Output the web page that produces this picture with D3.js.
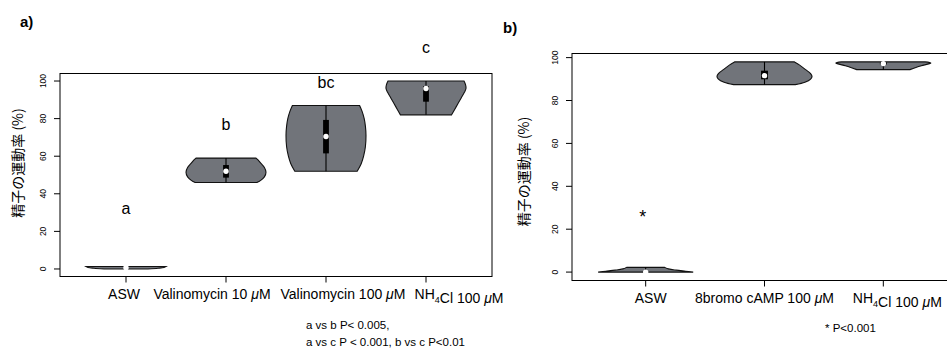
<!DOCTYPE html>
<html lang="ja">
<head>
<meta charset="UTF-8">
<title>精子の運動率</title>
<style>
  body { margin: 0; background: #fff; }
  svg text { font-family: "Liberation Sans", Arial, sans-serif; fill: #000; }
  .cjk { font-family: "Noto Sans CJK JP", "Liberation Sans", sans-serif; }
  .violin { fill: #71747a; stroke: #111; stroke-width: 1.1px; }
  .frame { fill: none; stroke: #000; stroke-width: 1px; }
</style>
<script src="https://d3js.org/d3.v7.min.js"></script>
</head>
<body>
<svg id="chart" width="947" height="358"></svg>
<script>
// ---- data ----
const yTicks = [0, 20, 40, 60, 80, 100];

// panel a
const groupsA = ["ASW", "Valinomycin 10 μM", "Valinomycin 100 μM", "NH4Cl 100 μM"];
// violin outlines: [value, relative half width]
const shapesA = [
  [[0, 0.55], [0.4, 0.8], [0.8, 0.95], [1.3, 1.0]],
  [[46, 0.77], [47, 0.86], [49, 0.96], [51.5, 1.0], [54, 0.96], [56, 0.88], [58, 0.8], [59, 0.75]],
  [[52, 0.78], [56, 0.88], [60, 0.94], [65, 0.985], [71, 1.0], [76, 0.985], [80, 0.955], [84, 0.9], [87, 0.84]],
  [[82, 0.64], [85, 0.72], [88, 0.8], [91, 0.88], [94, 0.96], [96, 1.0], [98, 0.99], [100, 0.95]]
];
const q1A = [0.7, 48.6, 61.5, 89];
const medA = [0.7, 52, 70.5, 96];
const q3A = [0.7, 55.3, 79.3, 97.3];
const lettersA = ["a", "b", "bc", "c"];
const letterYA = [32, 77, 99, 118];

// panel b
const groupsB = ["ASW", "8bromo cAMP 100 μM", "NH4Cl 100 μM"];
const shapesB = [
  [[0, 1.0], [0.4, 0.84], [0.9, 0.64], [1.5, 0.48], [2.2, 0.4]],
  [[87.4, 0.65], [88.5, 0.85], [90, 0.97], [91.2, 1.0], [92.5, 0.97], [94.5, 0.86], [96.5, 0.74], [98, 0.63]],
  [[94.4, 0.56], [95.5, 0.7], [96.5, 0.85], [97.5, 1.0], [98, 0.88]]
];
const q1B = [0, 89.9, 96.8];
const medB = [0, 91.6, 97.2];
const q3B = [0, 93.9, 97.8];
const starY = 27.7;

const svg = d3.select("#chart");

function addLabel(t, s) {
  s.split(/(μ|4(?=Cl))/).filter(p => p !== "").forEach(p => {
    if (p === "μ") t.append("tspan").attr("font-style", "italic").text("μ");
    else if (p === "4") {
      t.append("tspan").attr("dy", 4).attr("font-size", "9px").text("4");
      t.append("tspan").attr("dy", -4).text("");
    } else t.append("tspan").text(p);
  });
}

function panel(opt) {
  const n = opt.groups.length;
  const ext = 0.04 * n;
  const x = d3.scaleLinear().domain([0.5 - ext, n + 0.5 + ext]).range([opt.left, opt.right]);
  const yr = opt.ymax - opt.ymin, ye = 0.04 * yr;
  const y = d3.scaleLinear().domain([opt.ymin - ye, opt.ymax + ye]).range([opt.bottom, opt.top]);
  const step = x(2) - x(1);
  const g = svg.append("g");

  // violins
  opt.shapes.forEach((shape, i) => {
    const cx = x(i + 1);
    const area = d3.area()
      .x0(d => cx - d[1] * 0.4 * step)
      .x1(d => cx + d[1] * 0.4 * step)
      .y(d => y(d[0]))
      .curve(d3.curveCatmullRom);
    g.append("path").attr("class", "violin").attr("d", area(shape));
    const lo = shape[0][0], hi = shape[shape.length - 1][0];
    g.append("line").attr("x1", cx).attr("x2", cx).attr("y1", y(lo)).attr("y2", y(hi))
      .attr("stroke", "#000").attr("stroke-width", 1.1);
    const bw = 0.058 * step;
    g.append("rect").attr("x", cx - bw / 2).attr("width", bw)
      .attr("y", y(opt.q3[i])).attr("height", y(opt.q1[i]) - y(opt.q3[i]))
      .attr("fill", "#000");
    g.append("circle").attr("cx", cx).attr("cy", y(opt.med[i])).attr("r", 2.7).attr("fill", "#fff");
  });

  // frame
  const right = Math.min(opt.right, 960);
  g.append("rect").attr("class", "frame")
    .attr("x", opt.left).attr("y", opt.top)
    .attr("width", right - opt.left).attr("height", opt.bottom - opt.top);

  // y axis
  yTicks.forEach(v => {
    g.append("line").attr("x1", opt.left - 6).attr("x2", opt.left)
      .attr("y1", y(v)).attr("y2", y(v)).attr("stroke", "#000");
    g.append("text")
      .attr("transform", `translate(${opt.left - 17},${y(v)}) rotate(-90)`)
      .attr("text-anchor", "middle").attr("dy", "0.35em")
      .attr("font-size", "8.5px").text(v);
  });
  g.append("text").attr("class", "cjk")
    .attr("transform", `translate(${opt.labelX},${opt.labelY}) rotate(-90)`)
    .attr("text-anchor", "middle").attr("dy", "0.35em")
    .attr("font-size", "14px").text("精子の運動率 (%)");

  // x axis (labels spread a little off their ticks, as in the figure)
  opt.groups.forEach((name, i) => {
    const cx = x(i + 1);
    g.append("line").attr("x1", cx).attr("x2", cx)
      .attr("y1", opt.bottom).attr("y2", opt.bottom + 6).attr("stroke", "#000");
    const t = g.append("text").attr("x", cx + opt.labelShift[i]).attr("y", opt.bottom + 22.5)
      .attr("text-anchor", "middle").attr("font-size", "14px");
    addLabel(t, name);
  });

  g.append("text").attr("x", opt.tagX).attr("y", opt.tagY)
    .attr("font-size", "15px").attr("font-weight", "bold").text(opt.tag);
  return { x, y, g };
}

const A = panel({
  groups: groupsA, shapes: shapesA, q1: q1A, med: medA, q3: q3A,
  left: 60, right: 492, top: 73.5, bottom: 276.5, ymin: 0, ymax: 100,
  labelShift: [-2, -14, 17, 33],
  labelX: 18.5, labelY: 163, tag: "a)", tagX: 20, tagY: 27
});
lettersA.forEach((s, i) => {
  A.g.append("text").attr("x", A.x(i + 1)).attr("y", A.y(letterYA[i]))
    .attr("dy", "0.35em").attr("text-anchor", "middle")
    .attr("font-size", "16px").text(s);
});
A.g.append("text").attr("x", 306).attr("y", 329).attr("font-size", "11.5px")
  .text("a vs b P< 0.005,");
A.g.append("text").attr("x", 306).attr("y", 345.5).attr("font-size", "11.5px")
  .text("a vs c P < 0.001, b vs c P<0.01");

const B = panel({
  groups: groupsB, shapes: shapesB, q1: q1B, med: medB, q3: q3B,
  left: 572, right: 957, top: 53.5, bottom: 280.5, ymin: 0, ymax: 98,
  labelShift: [5, 0, 14],
  labelX: 524, labelY: 171.5, tag: "b)", tagX: 503, tagY: 33
});
B.g.append("text").attr("x", B.x(1) - 3).attr("y", B.y(starY) + 10.5)
  .attr("text-anchor", "middle").attr("font-size", "18px").text("*");
B.g.append("text").attr("x", 825).attr("y", 332).attr("font-size", "11.5px")
  .text("* P<0.001");
</script>
</body>
</html>
